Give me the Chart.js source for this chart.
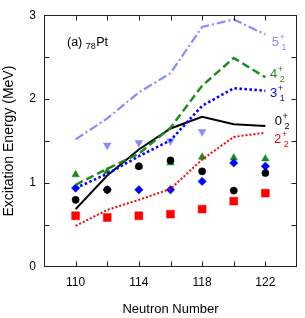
<!DOCTYPE html>
<html>
<head>
<meta charset="utf-8">
<script src="https://cdn.jsdelivr.net/npm/chart.js@4/dist/chart.umd.min.js"></script>
<style>
html,body{margin:0;padding:0;background:#fff;}
#wrap{width:305px;height:318px;position:relative;}
</style>
</head>
<body>
<div id="wrap"><canvas id="c" width="305" height="318"></canvas></div>
<script>
// ---- data ----
const neutrons = [110, 112, 114, 116, 118, 120, 122];
// calculated (lines)
const calc5p1 = [1.52, 1.77, 2.08, 2.31, 2.86, 2.95, 2.77];
const calc4p2 = [0.98, 1.17, 1.35, 1.66, 2.16, 2.49, 2.26];
const calc3p1 = [0.94, 1.11, 1.32, 1.51, 1.92, 2.13, 2.10];
const calc0p2 = [0.69, 1.09, 1.40, 1.65, 1.79, 1.70, 1.68];
const calc2p2 = [0.49, 0.68, 0.80, 0.93, 1.28, 1.55, 1.60];
// experiment (markers)
const exp5p1 = [null, 1.45, 1.48, 1.50, 1.61, null, null];
const exp4p2 = [1.10, 1.14, 1.20, 1.24, 1.31, 1.30, 1.29];
const exp3p1 = [0.94, 0.92, 0.92, 0.92, 1.02, 1.24, 1.20];
const exp0p2 = [0.80, 0.92, 1.20, 1.27, 1.14, 0.91, 1.12];
const exp2p2 = [0.61, 0.59, 0.61, 0.63, 0.69, 0.785, 0.88];
const xTickLabels = [110, 114, 118, 122];
const yTickLabels = [0, 1, 2, 3];
const stateLabels = [
  {main: '5', sup: '+', sub: '1', y: 2.68, x: 122.4, color: '#8a8aff'},
  {main: '4', sup: '+', sub: '2', y: 2.29, x: 122.3, color: '#1a8a1a'},
  {main: '3', sup: '+', sub: '1', y: 2.07, x: 122.3, color: '#0000ff'},
  {main: '0', sup: '+', sub: '2', y: 1.73, x: 122.6, color: '#000000'},
  {main: '2', sup: '+', sub: '2', y: 1.52, x: 122.55, color: '#ff0000'}
];

const pts = arr => neutrons.map((n, i) => ({x: n, y: arr[i]}));
const FONT = "'Liberation Sans', Arial, Helvetica, sans-serif";

const PURPLE = '#8a8aff', GREEN = '#1a8a1a', BLUE = '#0000ff', RED = '#ff0000', BLACK = '#000000';

const lineDs = (label, arr, color, dash, width) => ({
  type: 'line', label, data: pts(arr), borderColor: color, backgroundColor: color,
  borderWidth: width, borderDash: dash, pointRadius: 0, fill: false, tension: 0, order: 1
});
const markDs = (label, arr, color, style, radius, rot) => ({
  type: 'scatter', label, data: pts(arr), borderColor: color, backgroundColor: color,
  pointStyle: style, pointRadius: radius, pointRotation: rot || 0, borderWidth: 0.5,
  showLine: false, order: 2
});

const frame = {
  id: 'frame',
  afterDraw(chart) {
    const {ctx, chartArea: a, scales: {x, y}} = chart;
    ctx.save();
    ctx.strokeStyle = '#222';
    ctx.lineWidth = 1;
    const L = Math.round(a.left) + 0.5, R = Math.round(a.right) - 0.5;
    const T = Math.round(a.top) + 0.5, B = Math.round(a.bottom) - 0.5;
    ctx.strokeRect(L, T, R - L, B - T);
    const tl = 5;
    ctx.beginPath();
    for (let v = 110; v <= 122; v += 2) {
      const px = Math.round(x.getPixelForValue(v)) + 0.5;
      ctx.moveTo(px, B); ctx.lineTo(px, B - tl);
      ctx.moveTo(px, T); ctx.lineTo(px, T + tl);
    }
    for (let v = 0.5; v < 3; v += 0.5) {
      const py = Math.round(y.getPixelForValue(v)) + 0.5;
      ctx.moveTo(L, py); ctx.lineTo(L + tl, py);
      ctx.moveTo(R, py); ctx.lineTo(R - tl, py);
    }
    ctx.stroke();

    // state labels
    for (const s of stateLabels) {
      const px = x.getPixelForValue(s.x), py = y.getPixelForValue(s.y);
      ctx.fillStyle = s.color;
      ctx.textBaseline = 'middle';
      ctx.textAlign = 'left';
      ctx.font = '13px ' + FONT;
      ctx.fillText(s.main, px, py);
      const w = ctx.measureText(s.main).width;
      ctx.font = '9px ' + FONT;
      ctx.fillText(s.sup, px + w + 0.5, py - 5);
      ctx.fillText(s.sub, px + w + 2.5, py + 5);
    }
    // panel title
    ctx.fillStyle = '#000';
    ctx.textBaseline = 'alphabetic';
    ctx.textAlign = 'left';
    ctx.font = '12.5px ' + FONT;
    const tx = 67, ty = 46;
    ctx.fillText('(a)', tx, ty);
    let w1 = ctx.measureText('(a) ').width;
    ctx.font = '9px ' + FONT;
    ctx.fillText('78', tx + w1, ty + 3);
    let w2 = ctx.measureText('78').width;
    ctx.font = '12.5px ' + FONT;
    ctx.fillText('Pt', tx + w1 + w2 + 0.5, ty);
    ctx.restore();
  }
};

new Chart(document.getElementById('c'), {
  data: {
    datasets: [
      markDs('5+1 exp', exp5p1, PURPLE, 'triangle', 4.5, 180),
      markDs('2+2 exp', exp2p2, RED, 'rect', 5.6),
      markDs('0+2 exp', exp0p2, BLACK, 'circle', 3.6),
      markDs('3+1 exp', exp3p1, BLUE, 'rectRot', 4.2),
      markDs('4+2 exp', exp4p2, GREEN, 'triangle', 4.3),
      lineDs('5+1', calc5p1, PURPLE, [9, 3, 2, 3], 2.2),
      lineDs('4+2', calc4p2, GREEN, [8, 4], 2.4),
      lineDs('3+1', calc3p1, BLUE, [2.5, 2.5], 2.6),
      lineDs('0+2', calc0p2, BLACK, [], 2),
      lineDs('2+2', calc2p2, RED, [2, 2], 2)
    ]
  },
  options: {
    responsive: false,
    animation: false,
    devicePixelRatio: 1,
    layout: {padding: {top: 9, right: 7, left: 0, bottom: 0}},
    plugins: {legend: {display: false}, tooltip: {enabled: false}},
    scales: {
      x: {
        type: 'linear', min: 108, max: 124,
        afterFit: s => { s.height = 51; },
        grid: {display: false, drawTicks: false},
        border: {display: false},
        ticks: {
          stepSize: 2, padding: 8, color: '#000', font: {family: FONT, size: 12},
          autoSkip: false, maxRotation: 0,
          callback: v => xTickLabels.includes(v) ? String(v) : ''
        },
        title: {display: true, text: 'Neutron Number', color: '#000',
          font: {family: FONT, size: 13}, padding: {top: 0, bottom: 1}}
      },
      y: {
        type: 'linear', min: 0, max: 3,
        afterFit: s => { s.width = 44; },
        grid: {display: false, drawTicks: false},
        border: {display: false},
        ticks: {
          stepSize: 0.5, padding: 8, color: '#000', font: {family: FONT, size: 12},
          callback: v => yTickLabels.includes(v) ? String(v) : ''
        },
        title: {display: true, text: 'Excitation Energy (MeV)', color: '#000',
          font: {family: FONT, size: 14}, padding: {top: 1, bottom: 0}}
      }
    }
  },
  plugins: [frame]
});
</script>
</body>
</html>
